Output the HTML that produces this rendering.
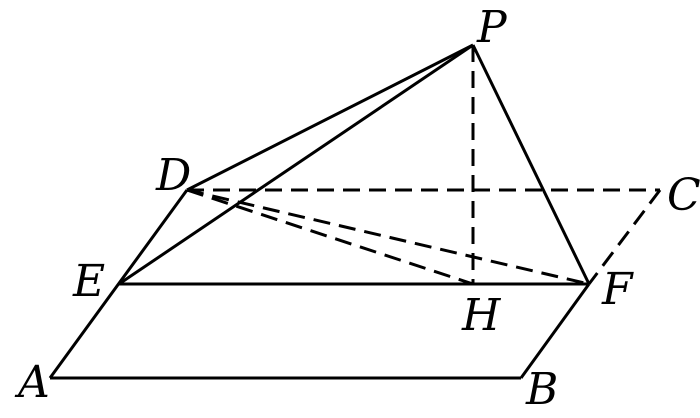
<!DOCTYPE html>
<html><head><style>body{margin:0;background:#fff}svg{display:block}</style></head>
<body>
<svg width="700" height="418" viewBox="0 0 700 418" xmlns="http://www.w3.org/2000/svg">
<g stroke="#000" stroke-width="3" fill="none" stroke-linecap="butt">
<line x1="473" y1="45" x2="187" y2="190"/>
<line x1="473" y1="45" x2="119" y2="284"/>
<line x1="473" y1="45" x2="589" y2="284"/>
<line x1="187" y1="190" x2="50" y2="378"/>
<line x1="119" y1="284" x2="589" y2="284"/>
<line x1="50" y1="378" x2="521" y2="378"/>
<line x1="521" y1="378" x2="589" y2="284"/>
<g stroke-dasharray="17,9">
<line x1="187" y1="190" x2="660" y2="190"/>
<line x1="660" y1="190" x2="589" y2="284"/>
<line x1="473" y1="45" x2="473" y2="284"/>
<line x1="187" y1="190" x2="473" y2="284"/>
<line x1="187" y1="190" x2="589" y2="284"/>
</g>
</g>
<g font-family="'DejaVu Serif','Liberation Serif',serif" font-style="italic" font-size="44" fill="#000">
<text x="477" y="42">P</text>
<text x="156" y="190">D</text>
<text x="667" y="210">C</text>
<text x="73" y="296">E</text>
<text x="602" y="304">F</text>
<text x="462" y="330">H</text>
<text x="18" y="397">A</text>
<text x="526" y="404">B</text>
</g>
</svg>
</body></html>
